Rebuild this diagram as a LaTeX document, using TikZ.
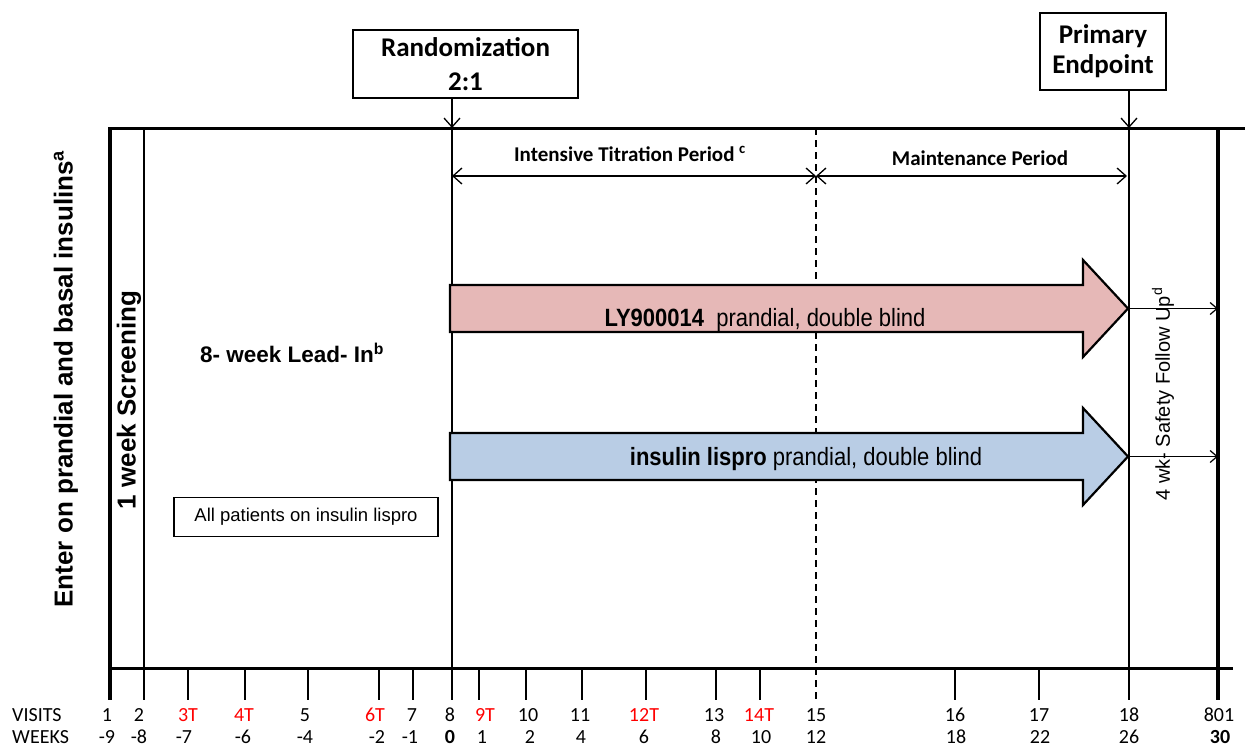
\documentclass[tikz,border=0pt]{standalone}
\usepackage{fontspec}
\setmainfont{Liberation Sans}
\newfontfamily\calfont{Carlito}
\newfontfamily\narrowfont[FakeStretch=0.88]{Liberation Sans}
\usetikzlibrary{arrows.meta}
\definecolor{pinkfill}{RGB}{230,184,183}
\definecolor{bluefill}{RGB}{185,205,229}
\definecolor{visred}{RGB}{255,0,0}
\tikzset{
  barb/.style={-{Straight Barb[length=9pt,width=16pt,line width=1.3pt]}},
  smallbarb/.style={-{Straight Barb[length=7pt,width=12pt,line width=1.2pt]}},
  dbarb/.style={{Straight Barb[length=9pt,width=16pt,line width=1.3pt]}-{Straight Barb[length=9pt,width=16pt,line width=1.3pt]}},
  frameline/.style={line width=3pt},
  borderline/.style={line width=4pt},
  vline/.style={line width=1.6pt},
  dashline/.style={line width=1.6pt, dash pattern=on 7pt off 5pt},
  tickline/.style={line width=1.8pt},
  topbox/.style={draw, line width=2.5pt, align=center, inner sep=0pt,
    font=\calfont\bfseries\fontsize{27}{34}\selectfont},
  axislab/.style={inner sep=0pt, anchor=base, font=\calfont\fontsize{20}{22}\selectfont},
  periodlab/.style={inner sep=0pt, font=\calfont\bfseries\fontsize{21}{24}\selectfont},
  bigarrow/.style={draw, line width=2.2pt, line join=miter},
  arrowtext/.style={inner sep=0pt, font=\narrowfont\fontsize{25}{28}\selectfont},
}
\begin{document}
\begin{tikzpicture}[x=1pt,y=-1pt]
\useasboundingbox (0,0) rectangle (1245,747);

% frame coordinates
\coordinate (TL) at (108,128);
\coordinate (TR) at (1245,128);
\coordinate (BL) at (108,668);
\coordinate (BR) at (1233,668);
\foreach \n/\x in {lb/110, sc/144, rd/452, ds/816, ep/1129, rb/1218} {
  \coordinate (\n-t) at (\x,128);
  \coordinate (\n-b) at (\x,700);
}

% vertical lines
\draw[vline] (sc-t) -- (sc-b);
\draw[vline] (rd-t) -- (rd-b);
\draw[vline] (ep-t) -- (ep-b);
\draw[dashline] (ds-t) -- (ds-b);
\draw[borderline] (lb-t) -- (lb-b);
\draw[borderline] (rb-t) -- (rb-b);
\draw[frameline] (TL) -- (TR);
\draw[frameline] (BL) -- (BR);

% ticks
\foreach \x [count=\i] in {188,245,308,379,413,479,526,582,646,716,760,955,1039} {
  \coordinate (tka\i) at (\x,668);
  \coordinate (tkb\i) at (\x,700);
  \draw[tickline] (tka\i) -- (tkb\i);
}

% top boxes
\node[topbox, minimum width=225pt, minimum height=68pt] (rand) at (465.5,64) {Randomization\\2:1};
\node[topbox, minimum width=126pt, minimum height=77pt, font=\calfont\bfseries\fontsize{27}{30}\selectfont] (prim) at (1103,51.5) {Primary\\Endpoint};
\draw[barb, line width=1.6pt] (rand.south -| rd-t) -- (rd-t);
\draw[barb, line width=1.6pt] (prim.south -| ep-t) -- (ep-t);

% period labels and arrows
\node[periodlab] (itp) at (630,154) {Intensive Titration Period \textsuperscript{c}};
\node[periodlab] (mp) at (980,158) {Maintenance Period};
\coordinate (pa1) at (452,176);
\coordinate (pa2) at (816,176);
\coordinate (pa3) at (1127,176);
\draw[dbarb, line width=1.5pt] (pa1) -- (pa2);
\draw[dbarb, line width=1.5pt] (pa2) -- (pa3);

% big arrows
\draw[bigarrow, fill=pinkfill] (450,285) -- (1083,285) -- (1083,260) -- (1128,308.5) -- (1083,357) -- (1083,332) -- (450,332) -- cycle;
\draw[bigarrow, fill=bluefill] (450,433) -- (1083,433) -- (1083,408) -- (1128,456.5) -- (1083,505) -- (1083,480) -- (450,480) -- cycle;
\coordinate (tipA) at (1128,308.5);
\coordinate (tipB) at (1128,456.5);
\coordinate (endA) at (1218,308.5);
\coordinate (endB) at (1218,456.5);
\draw[smallbarb, line width=1.4pt] (tipA) -- (endA);
\draw[smallbarb, line width=1.4pt] (tipB) -- (endB);
\node[arrowtext] (lytext) at (765,320) {\textbf{LY900014}\ \ prandial,\ double\ blind};
\node[arrowtext] (istext) at (806,459) {\textbf{insulin lispro} prandial,\ double\ blind};

% left texts
\node[rotate=90, inner sep=0pt, font=\bfseries\fontsize{26}{28}\selectfont] (enter) at (66,379) {Enter on prandial and basal insulins\textsuperscript{a}};
\node[rotate=90, inner sep=0pt, font=\bfseries\fontsize{26}{28}\selectfont] (screen) at (129,400) {1 week Screening};
\node[inner sep=0pt, font=\bfseries\fontsize{22.5}{24}\selectfont] (lead) at (292,353) {8- week Lead- In\textsuperscript{b}};
\node[draw, line width=1.6pt, minimum width=264pt, minimum height=39pt, inner sep=0pt, font=\fontsize{18.5}{20}\selectfont] (allp) at (306,517) {All patients on insulin lispro};

% safety follow up
\node[rotate=90, inner sep=0pt, font=\fontsize{20}{22}\selectfont] (safety) at (1163,394) {4 wk- Safety Follow Up\textsuperscript{d}};

% axis labels
\node[axislab, anchor=base west] (vislab) at (12,721) {VISITS};
\node[axislab, anchor=base west] (wklab) at (12,743) {WEEKS};
\foreach \xv/\xw/\v/\w/\c [count=\i] in {
  107/107/1/-9/black, 139/139/2/-8/black, 188/184/3T/-7/visred, 244/243/4T/-6/visred,
  305/305/5/-4/black, 375/377/6T/-2/visred, 412/410/7/-1/black, 450/450/8/{\bfseries 0}/black,
  485/482/9T/1/visred, 528/530/10/2/black, 580/581/11/4/black, 644/644/12T/6/visred,
  714/716/13/8/black, 759/761/14T/10/visred, 816/816/15/12/black, 955/956/16/18/black,
  1039/1040/17/22/black, 1129/1129/18/26/black, 1219/1220/801/{\bfseries 30}/black} {
  \node[axislab, text=\c] (vis\i) at (\xv,721) {\v};
  \node[axislab] (wk\i) at (\xw,743) {\w};
}
\end{tikzpicture}
\end{document}
